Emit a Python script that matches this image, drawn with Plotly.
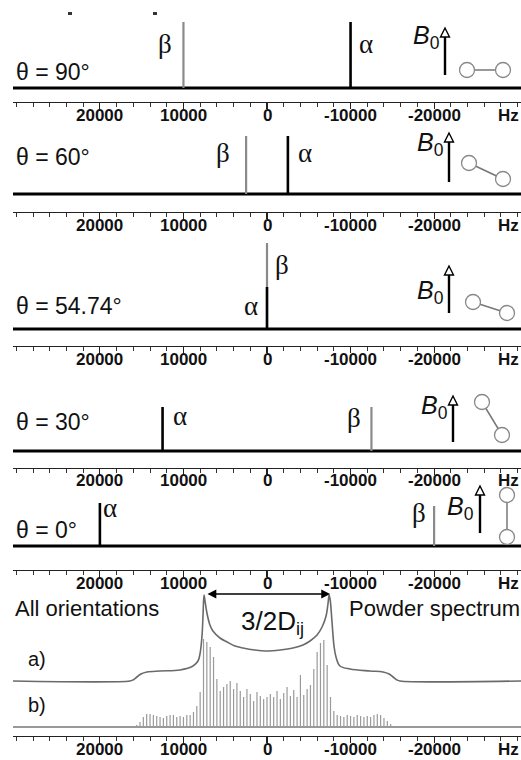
import plotly.graph_objects as go

# ---------------- data ----------------
theta_labels = ["θ = 90°", "θ = 60°", "θ = 54.74°", "θ = 30°", "θ = 0°"]
alpha_hz = [-10000, -2500, 0, 12500, 20000]
beta_hz = [10000, 2500, 0, -12500, -20000]
alpha_height = [66, 58, 42, 44, 43]
beta_height = [66, 58, 86, 44, 40]

tick_vals = [20000, 10000, 0, -10000, -20000]
tick_text = ["20000", "10000", "0", "-10000", "-20000"]
unit_label = "Hz"

# powder spectrum a) (continuous line)
powder_hz = [30400, 16400, 16050, 15570, 15090, 14370, 12810, 10420, 8860, 8260, 8020,
             7780, 7660, 7540, 7420, 7190, 6830, 6470, 5630, 4790, 3830, 2870, 1440, 0,
             -1560, -3110, -4310, -5150, -5990, -6590, -7070, -7310, -7430, -7550, -7790,
             -8020, -8260, -8740, -9940, -12340, -13890, -14610, -15090, -15570, -15930, -30400]
powder_a = [0, 0, 1, 4, 7, 9, 10, 11, 15, 20, 27,
            45, 65, 86, 80, 68, 56, 50, 43, 39, 35, 33, 31, 30,
            31, 33, 36, 40, 46, 54, 65, 78, 86, 82, 58,
            35, 24, 15, 12, 10, 9, 7, 4, 1, 0, 0]

# powder spectrum b) (stick spectrum)
stick_hz = [15600, 15200, 14800, 14400, 14000, 13600, 13200, 12800, 12400, 12000, 11600,
            11200, 10800, 10400, 10000, 9600, 9200, 8800, 8400, 8000, 7600, 7200, 6800,
            6400, 6000, 5600, 5200, 4800, 4400, 4000, 3600, 3200, 2800, 2400, 2000, 1600,
            1200, 800, 400, 0, -400, -800, -1200, -1600, -2000, -2400, -2800, -3200, -3600,
            -4000, -4400, -4800, -5200, -5600, -6000, -6400, -6800, -7200, -7600, -8000,
            -8400, -8800, -9200, -9600, -10000, -10400, -10800, -11200, -11600, -12000,
            -12400, -12800, -13200, -13600, -14000, -14400, -14800, -15200]
stick_b = [2, 5, 10, 13, 13, 12, 11, 10, 9, 11, 12,
           12, 10, 11, 10, 12, 12, 15, 21, 35, 88, 85, 80,
           70, 48, 36, 40, 43, 46, 38, 44, 36, 30, 38, 33, 26,
           35, 31, 28, 30, 33, 30, 36, 28, 34, 40, 31, 37, 30,
           52, 32, 38, 42, 58, 75, 84, 87, 62, 30, 16,
           12, 11, 10, 12, 11, 10, 12, 11, 10, 11,
           10, 12, 13, 12, 9, 6, 3, 1]

# ---------------- geometry (pixels) ----------------
W, H = 521, 760
ML, MB = 13, 24
PH = H - MB  # plot height (top margin 0)
PW = W - ML
XR = [30400, -30400]


def pyp(y):
    return (PH - y) / PH


def pxp(x):
    return (x - ML) / PW


# (axis line px, baseline px, top px)
panels = [(102, 88, 10), (212, 194, 124), (346, 329, 234), (468, 451, 388),
          (570, 546, 490), (736, 727, 578)]

SANS = "Liberation Sans, Arial"
SERIF = "Liberation Serif, Times New Roman"

fig = go.Figure()
layout = dict(width=W, height=H, margin=dict(l=ML, r=0, t=0, b=MB),
              plot_bgcolor="white", paper_bgcolor="white", showlegend=False)

annotations = []
shapes = []

for k, (ax_px, base_px, top_px) in enumerate(panels):
    n = "" if k == 0 else str(k + 1)
    layout["xaxis" + n] = dict(
        domain=[0, 1], anchor="y" + n, range=XR, showgrid=False, zeroline=False,
        showline=True, linecolor="#222", linewidth=1.2,
        tickmode="array", tickvals=tick_vals, ticktext=tick_text, showticklabels=False,
        ticks="outside", ticklen=6, tickwidth=1.2, tickcolor="#222",
        minor=dict(tickmode="linear", tick0=0, dtick=2000, ticks="outside", ticklen=4,
                   tickwidth=1, tickcolor="#333"),
        fixedrange=True)
    layout["yaxis" + n] = dict(
        domain=[pyp(ax_px), pyp(top_px)], anchor="x" + n,
        range=[-(ax_px - base_px), base_px - top_px], visible=False, fixedrange=True)
    for v, t in zip(tick_vals, tick_text):
        annotations.append(dict(text="<b>%s</b>" % t, xref="x" + n, yref="paper",
                                x=v, y=pyp(ax_px + 13), showarrow=False,
                                xanchor="center", yanchor="middle",
                                font=dict(family=SANS, size=17, color="#111")))
    annotations.append(dict(text="<b>%s</b>" % unit_label, xref="paper", yref="paper",
                            x=pxp(508), y=pyp(ax_px + 13), showarrow=False,
                            xanchor="center", yanchor="middle",
                            font=dict(family=SANS, size=17, color="#111")))

# stick panels
for k in range(5):
    n = "" if k == 0 else str(k + 1)
    xa, ya = "x" + n, "y" + n
    fig.add_trace(go.Scatter(x=[XR[0], XR[1]], y=[0, 0], mode="lines", xaxis=xa, yaxis=ya,
                             line=dict(color="black", width=3.2), hoverinfo="skip"))
    fig.add_trace(go.Scatter(x=[beta_hz[k], beta_hz[k]], y=[0, beta_height[k]], mode="lines",
                             xaxis=xa, yaxis=ya, line=dict(color="#8a8a8a", width=2.2),
                             hoverinfo="skip"))
    fig.add_trace(go.Scatter(x=[alpha_hz[k], alpha_hz[k]], y=[0, alpha_height[k]], mode="lines",
                             xaxis=xa, yaxis=ya, line=dict(color="black", width=2.6),
                             hoverinfo="skip"))

# powder panel
sx, sy = [], []
for f, h in zip(stick_hz, stick_b):
    sx += [f, f, None]
    sy += [0, h, None]
fig.add_trace(go.Scatter(x=[XR[0], XR[1]], y=[0, 0], mode="lines", xaxis="x6", yaxis="y6",
                         line=dict(color="#777", width=1.5), hoverinfo="skip"))
fig.add_trace(go.Scatter(x=sx, y=sy, mode="lines", xaxis="x6", yaxis="y6",
                         line=dict(color="#9a9a9a", width=1.2), hoverinfo="skip"))
offset_a = 46
fig.add_trace(go.Scatter(x=powder_hz, y=[v + offset_a for v in powder_a], mode="lines",
                         xaxis="x6", yaxis="y6", line=dict(color="#6a6a6a", width=1.6),
                         line_shape="spline", hoverinfo="skip"))


def label(text, x, y, size, family=SANS, anchor="left", color="#111"):
    annotations.append(dict(text=text, xref="paper", yref="paper", x=pxp(x), y=pyp(y),
                            showarrow=False, xanchor=anchor, yanchor="middle",
                            font=dict(family=family, size=size, color=color)))


theta_y = [72, 157, 306, 422, 530]
for k in range(5):
    label(theta_labels[k], 14, theta_y[k], 23)

# alpha / beta labels (pixel positions)
greek = [("β", 165, 44), ("α", 366, 44),
         ("β", 223, 153), ("α", 305, 153),
         ("β", 282, 265), ("α", 251, 306),
         ("α", 180, 416), ("β", 354, 418),
         ("α", 110, 508), ("β", 419, 513)]
for t, x, y in greek:
    label(t, x, y, 27, family=SERIF, anchor="center")

# B0 labels (right-aligned just left of the arrow), arrows, molecules
b0 = [(442, 37, 445, 75, 28), (446, 144, 449, 182, 133), (446, 292, 449, 313, 266),
      (450, 407, 453, 442, 396), (476, 508, 480, 533, 486)]
for (tx, ty, ax, yb, yt) in b0:
    label("<i>B</i><sub>0</sub>", tx, ty, 25, anchor="right")
    shapes.append(dict(type="line", xref="paper", yref="paper", x0=pxp(ax), x1=pxp(ax),
                       y0=pyp(yb), y1=pyp(yt + 8), line=dict(color="black", width=2.4)))
    path = "M {} {} L {} {} L {} {} Z".format(pxp(ax - 4.5), pyp(yt + 9), pxp(ax + 4.5), pyp(yt + 9),
                                               pxp(ax), pyp(yt))
    shapes.append(dict(type="path", xref="paper", yref="paper", path=path,
                       fillcolor="white", line=dict(color="black", width=1.4)))

molecules = [((467, 70), (503, 70)), ((469, 163), (503, 179)), ((473, 302), (507, 313)),
             ((482, 402), (502, 435)), ((507, 495), (507, 537))]
R = 7.5
for (c1, c2) in molecules:
    shapes.append(dict(type="line", xref="paper", yref="paper", x0=pxp(c1[0]), y0=pyp(c1[1]),
                       x1=pxp(c2[0]), y1=pyp(c2[1]), line=dict(color="#777", width=1.5)))
    for (cx, cy) in (c1, c2):
        shapes.append(dict(type="circle", xref="paper", yref="paper",
                           x0=pxp(cx - R), x1=pxp(cx + R), y0=pyp(cy + R), y1=pyp(cy - R),
                           fillcolor="white", line=dict(color="#888", width=1.3)))

# small cropped fragments at the very top edge of the original figure
for x0 in (68, 153):
    shapes.append(dict(type="rect", xref="paper", yref="paper", x0=pxp(x0), x1=pxp(x0 + 4),
                       y0=pyp(15), y1=pyp(12), fillcolor="#333", line=dict(width=0)))

# powder panel texts
label("All orientations", 13, 608, 22)
label("Powder spectrum", 347, 608, 22)
label("a)", 26, 659, 20)
label("b)", 26, 705, 20)
label("3/2D<sub>ij</sub>", 272, 622, 26, anchor="center")
annotations.append(dict(x=-7550, y=133, ax=7300, ay=133, xref="x6", yref="y6",
                        axref="x6", ayref="y6", text="", showarrow=True,
                        arrowhead=2, arrowside="end+start", arrowsize=1.1, arrowwidth=1.6,
                        arrowcolor="black"))

layout["annotations"] = annotations
layout["shapes"] = shapes
fig.update_layout(**layout)
fig.write_html("out.html", config={"displayModeBar": False, "staticPlot": True})

# remove the browser's default page margin so the chart sits at the top-left corner
with open("out.html", encoding="utf-8") as fh:
    html = fh.read()
html = html.replace("<head>", "<head><style>html,body{margin:0;padding:0;overflow:hidden;}</style>", 1)
with open("out.html", "w", encoding="utf-8") as fh:
    fh.write(html)
